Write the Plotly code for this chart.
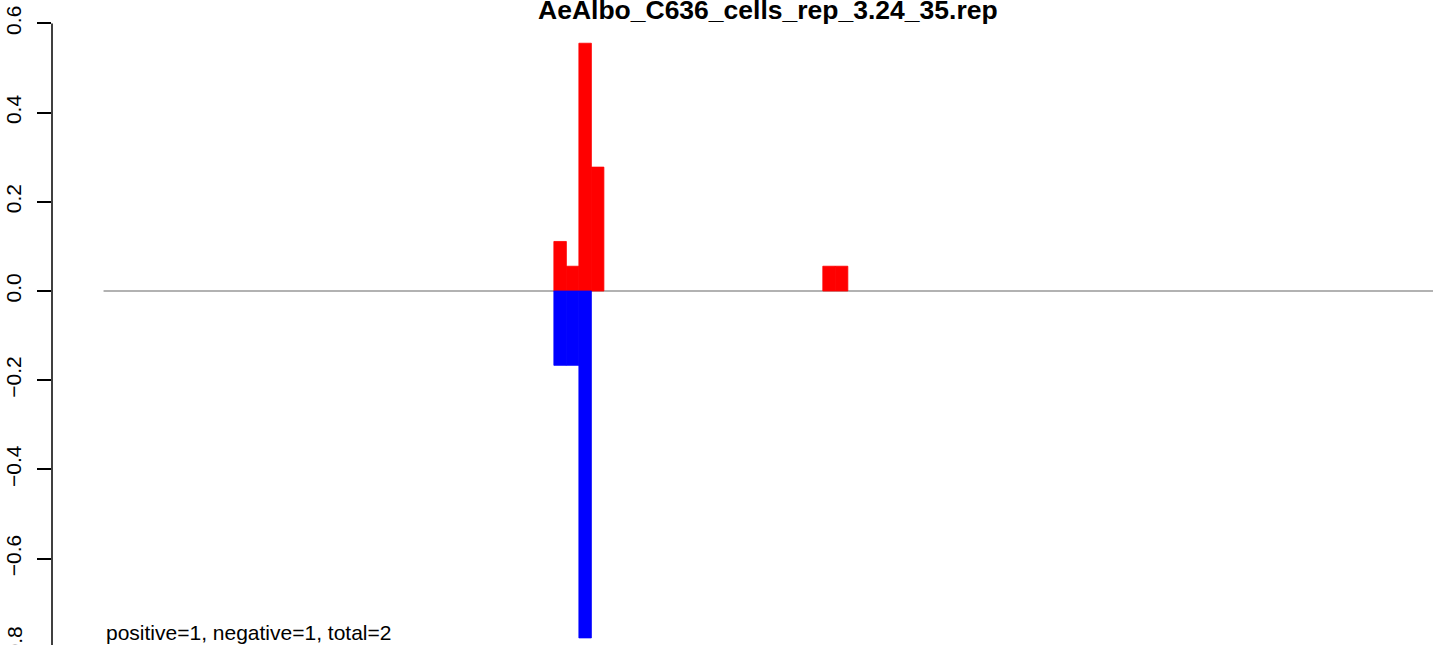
import plotly.graph_objects as go

# ---- data ----
title_text = "AeAlbo_C636_cells_rep_3.24_35.rep"
summary_text = "positive=1, negative=1, total=2"

pos_x = [36.5, 37.5, 38.5, 39.5, 58, 59]
pos_y = [0.1111, 0.0556, 0.5556, 0.2778, 0.0556, 0.0556]

neg_x = [36.5, 37.5, 38.5]
neg_y = [-0.1667, -0.1667, -0.7778]

y_ticks = [0.6, 0.4, 0.2, 0.0, -0.2, -0.4, -0.6, -0.8]
x_start = 0          # left end of the zero line / text anchor
x_range = [-4.12, 106.28]
y_range = [-0.7937, 0.6525]

W, H = 1433, 645
ML = 52
FONT = "Liberation Sans, Arial, sans-serif"

def fmt(v):
    s = f"{abs(v):.1f}"
    return ("\u2212" + s) if v < 0 else s

fig = go.Figure()
fig.add_trace(go.Bar(x=pos_x, y=pos_y, width=1,
                     marker=dict(color="#FF0000", line=dict(width=0.8, color="#FF0000")),
                     hoverinfo="x+y"))
fig.add_trace(go.Bar(x=neg_x, y=neg_y, width=1,
                     marker=dict(color="#0000FF", line=dict(width=0.8, color="#0000FF")),
                     hoverinfo="x+y"))

def ypaper(v):
    return (v - y_range[0]) / (y_range[1] - y_range[0])

shown_ticks = [t for t in y_ticks if y_range[0] <= t <= y_range[1]]
hidden_ticks = [t for t in y_ticks if not (y_range[0] <= t <= y_range[1])]

shapes = [
    # zero reference line
    dict(type="line", xref="x", yref="y", x0=x_start, x1=x_range[1], y0=0, y1=0,
         line=dict(color="#999999", width=1.5), layer="below"),
    # y-axis line spanning the tick range (R style)
    dict(type="line", xref="paper", yref="paper", x0=0, x1=0,
         y0=ypaper(min(y_ticks)), y1=ypaper(max(y_ticks)),
         line=dict(color="black", width=1.5)),
]

annotations = [
    dict(text=f"<b>{title_text}</b>", xref="paper", yref="paper",
         x=(768 - ML) / (W - ML), y=1 - 10 / H, xanchor="center", yanchor="middle",
         showarrow=False, font=dict(family=FONT, size=26.5, color="black")),
    dict(text=summary_text, xref="x", yref="paper", x=x_start, y=1 - 632 / H,
         xanchor="left", yanchor="middle", showarrow=False,
         font=dict(family=FONT, size=21, color="black")),
]
for t in hidden_ticks:
    annotations.append(dict(text=fmt(t), xref="paper", yref="paper", x=0, y=ypaper(t),
                            xanchor="center", yanchor="middle", xshift=-37, textangle=-90,
                            showarrow=False, font=dict(family=FONT, size=21, color="black")))

fig.update_layout(
    width=W, height=H,
    margin=dict(l=ML, r=0, t=0, b=0, autoexpand=False),
    paper_bgcolor="white", plot_bgcolor="white",
    barmode="overlay", showlegend=False,
    xaxis=dict(range=x_range, visible=False, showgrid=False, zeroline=False, automargin=False),
    yaxis=dict(range=y_range, tickvals=shown_ticks, ticktext=[fmt(t) for t in shown_ticks],
               ticks="outside", ticklen=14, tickwidth=1.5, tickcolor="black",
               tickangle=-90, showgrid=False, zeroline=False, showline=False,
               ticklabelstandoff=8, automargin=False,
               tickfont=dict(family=FONT, size=21, color="black")),
    shapes=shapes, annotations=annotations,
)

fig.write_html("out.html", config={"displayModeBar": False},
               post_script="document.body.style.margin='0';document.body.style.overflow='hidden';")
